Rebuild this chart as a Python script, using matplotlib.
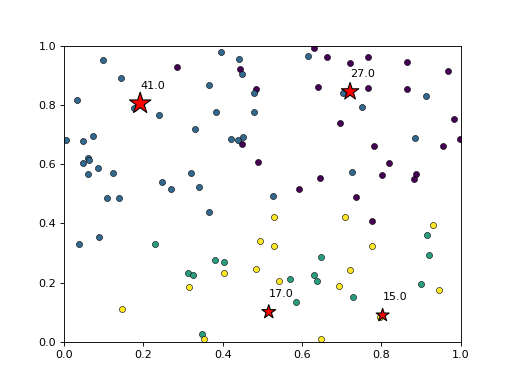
"""
Clusters con sus centroides (tamaño = número de puntos)
"""

import matplotlib
matplotlib.use('Agg')
import matplotlib.pyplot as plt

# cluster 0 (morado)
x0 = [0.284, 0.4425, 0.483, 0.448, 0.631, 0.663, 0.639, 0.721, 0.766, 0.865,
      0.969, 0.766, 0.865, 0.696, 0.983, 0.781, 0.955, 0.9975, 0.4895, 0.592,
      0.645, 0.818, 0.802, 0.886, 0.882, 0.737, 0.775]
y0 = [0.930, 0.922, 0.855, 0.669, 0.992, 0.962, 0.861, 0.943, 0.962, 0.947,
      0.917, 0.859, 0.855, 0.741, 0.752, 0.663, 0.663, 0.685, 0.607, 0.517,
      0.554, 0.605, 0.565, 0.569, 0.552, 0.488, 0.410]

# cluster 1 (azul verdoso)
x1 = [0.099, 0.1436, 0.032, 0.176, 0.239, 0.330, 0.005, 0.047, 0.073, 0.395,
      0.441, 0.4475, 0.366, 0.478, 0.383, 0.478, 0.421, 0.4375, 0.4517, 0.616,
      0.702, 0.912, 0.751, 0.884, 0.060, 0.064, 0.047, 0.060, 0.086, 0.124,
      0.108, 0.138, 0.248, 0.269, 0.320, 0.341, 0.037, 0.089, 0.365, 0.526,
      0.725]
y1 = [0.954, 0.891, 0.818, 0.790, 0.768, 0.719, 0.682, 0.678, 0.697, 0.981,
      0.956, 0.905, 0.870, 0.841, 0.776, 0.778, 0.685, 0.681, 0.693, 0.966,
      0.840, 0.831, 0.793, 0.690, 0.621, 0.616, 0.604, 0.569, 0.587, 0.572,
      0.485, 0.485, 0.541, 0.518, 0.572, 0.523, 0.332, 0.354, 0.438, 0.494,
      0.575]

# cluster 2 (verde)
x2 = [0.229, 0.3115, 0.324, 0.380, 0.403, 0.647, 0.569, 0.630, 0.637, 0.584,
      0.349, 0.916, 0.919, 0.729, 0.900]
y2 = [0.331, 0.233, 0.227, 0.276, 0.271, 0.285, 0.213, 0.226, 0.204, 0.136,
      0.026, 0.361, 0.294, 0.150, 0.196]

# cluster 3 (amarillo)
x3 = [0.530, 0.494, 0.529, 0.708, 0.929, 0.775, 0.315, 0.147, 0.403, 0.485,
      0.541, 0.353, 0.647, 0.721, 0.694, 0.944, 0.796]
y3 = [0.421, 0.340, 0.323, 0.423, 0.394, 0.325, 0.186, 0.110, 0.234, 0.247,
      0.205, 0.008, 0.008, 0.244, 0.187, 0.176, 0.085]

# centroides y número de puntos
cx = [0.721, 0.192, 0.803, 0.516]
cy = [0.846, 0.806, 0.090, 0.101]
counts = [27, 41, 15, 17]

colors = ['#440154', '#31688e', '#2a9d7f', '#fde725']

fig, ax = plt.subplots(figsize=(6.4, 4.8), dpi=80)

for xs, ys, col in zip([x0, x1, x2, x3], [y0, y1, y2, y3], colors):
    ax.scatter(xs, ys, c=col, s=30, edgecolors='k', linewidths=0.5)

ax.scatter(cx, cy, marker='*', c='red', s=[n * 10 for n in counts],
           edgecolors='k', linewidths=1)
for x, y, n in zip(cx, cy, counts):
    ax.text(x, y + 0.05, str(float(n)))

ax.set_xlim(0, 1)
ax.set_ylim(0, 1)

plt.savefig('out.png')
